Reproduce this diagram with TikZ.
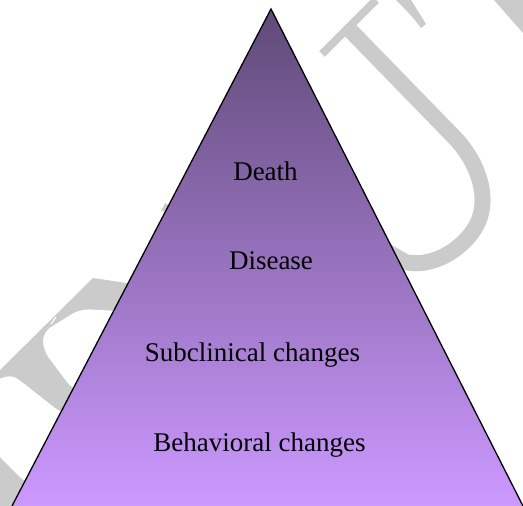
\documentclass[tikz,border=0pt]{standalone}
\usepackage{fontspec}
\setmainfont{Liberation Serif}
\definecolor{ptop}{RGB}{95,74,120}
\definecolor{pmid}{RGB}{164,124,204}
\definecolor{pbot}{RGB}{204,153,255}
\definecolor{wm}{RGB}{203,203,203}
\begin{document}
\begin{tikzpicture}[x=1pt,y=-1pt,
  lvl/.style={font=\fontsize{27}{32}\selectfont, anchor=base, inner sep=0pt, text=black},
  wmark/.style={fill=wm, draw=none},
  edge/.style={draw=black, line width=1.3pt, line join=miter}]
\useasboundingbox (0,0) rectangle (523,506);
% watermark (left letters)
\fill[wmark] (93,278) -- (140,285) -- (140,506) -- (0,506) -- (0,370) -- cycle;
\fill[white, rounded corners=9pt] (80,309) -- (140,312) -- (140,400) -- (73,390) -- (43,350) -- (43,332) -- cycle;
\fill[white, rounded corners=6pt] (-5,380) -- (12,375) -- (22,382) -- (60,412) -- (120,420) -- (120,485) -- (25,482) -- (-5,452) -- cycle;
\draw[white, line width=1.2pt] (51,324) -- (56,317);
\fill[wmark] (161,211) -- (165,203) -- (170,206) -- (168,212) -- cycle;
% watermark (right letters)
\draw[wm, line width=8pt] (322,54) -- (376,0);
\draw[wm, line width=16pt] (348,28) -- (455,138) .. controls (478,162) and (492,200) .. (475,228) .. controls (460,252) and (430,268) .. (405,262) -- (350,230);
\fill[wmark] (396,0) -- (411,0) -- (426,24) -- (421,28) .. controls (414,18) and (404,8) .. (396,0) -- cycle;
\fill[wmark] (494,0) -- (523,0) -- (523,33) -- cycle;
% pyramid
\coordinate (apex) at (271,9);
\coordinate (bl) at (12,506);
\coordinate (br) at (523,506);
\shade[top color=ptop, middle color=pmid, bottom color=pbot] (apex) -- (br) -- (bl) -- cycle;
\draw[edge] (bl) -- (apex) -- (br);
% levels
\node[lvl] (death) at (265.5,180) {Death};
\node[lvl] (disease) at (271,269) {Disease};
\node[lvl] (subclin) at (252.5,361) {Subclinical changes};
\node[lvl] (behav) at (259.5,451) {Behavioral changes};
\end{tikzpicture}
\end{document}
